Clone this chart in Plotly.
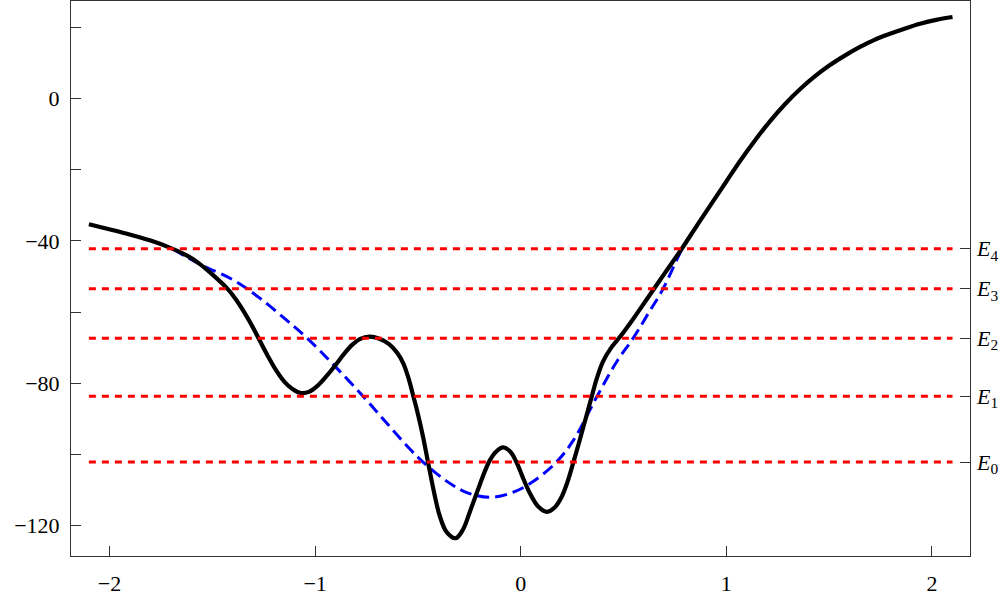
import plotly.graph_objects as go

# Full potential curve (black)
pot_x = [-2.1, -1.92, -1.80, -1.71, -1.62, -1.56, -1.50, -1.43, -1.39, -1.35,
         -1.31, -1.27, -1.23, -1.19, -1.15, -1.11, -1.07, -1.03, -0.99, -0.945,
         -0.90, -0.86, -0.82, -0.78, -0.735, -0.69, -0.64, -0.60, -0.57, -0.545,
         -0.524, -0.50, -0.475, -0.451, -0.42, -0.394, -0.36, -0.316, -0.28, -0.248,
         -0.22, -0.20, -0.175, -0.151, -0.12, -0.086, -0.05, -0.021, 0.01, 0.044,
         0.085, 0.128, 0.165, 0.198, 0.228, 0.255, 0.28, 0.303, 0.325, 0.344,
         0.368, 0.400, 0.441, 0.482, 0.547, 0.62, 0.70, 0.782, 0.86, 0.936,
         1.0, 1.066, 1.14, 1.212, 1.285, 1.358, 1.43, 1.504, 1.58, 1.650,
         1.72, 1.796, 1.87, 1.942, 2.02, 2.1]
pot_y = [-35.3, -37.9, -39.9, -41.8, -44.2, -46.5, -49.4, -53.2, -56.0, -59.5,
         -63.5, -67.9, -72.3, -76.3, -79.5, -81.6, -82.7, -82.4, -80.8, -78.0,
         -74.8, -71.8, -69.2, -67.5, -66.9, -67.4, -69.0, -71.5, -74.5, -78.7,
         -83.2, -88.6, -95.0, -102.1, -111.0, -117.2, -121.8, -123.5, -121.0, -116.2,
         -111.8, -108.6, -104.8, -101.7, -99.2, -98.0, -99.2, -102.1, -106.4, -110.8,
         -114.6, -116.1, -114.9, -112.0, -107.6, -102.4, -97.4, -92.6, -88.0, -84.0,
         -79.0, -73.9, -69.9, -67.0, -61.9, -55.8, -49.1, -42.3, -35.4, -28.8,
         -23.3, -17.6, -11.7, -6.4, -1.6, 2.6, 6.2, 9.4, 12.2, 14.5,
         16.5, 18.2, 19.7, 21.0, 22.1, 22.9]

# Smoothed approximate potential (blue dashed)
approx_x = [-1.69, -1.562, -1.40, -1.27, -1.14, -1.035, -0.913, -0.767, -0.654, -0.54,
            -0.475, -0.362, -0.265, -0.151, -0.037, 0.06, 0.174, 0.255, 0.368, 0.466,
            0.547, 0.62, 0.693, 0.785, 0.85]
approx_y = [-42.3, -46.5, -50.9, -56.0, -62.2, -67.5, -74.6, -83.6, -91.0, -98.4,
            -102.1, -107.4, -110.6, -112.0, -110.6, -107.6, -102.1, -96.1, -84.0, -74.0,
            -67.3, -60.4, -53.4, -42.3, -36.5]

# Energy levels (red dotted)
level_values = [-102.1, -83.6, -67.3, -53.4, -42.2]
level_labels = ["<i>E</i><sub>0</sub>", "<i>E</i><sub>1</sub>", "<i>E</i><sub>2</sub>",
                "<i>E</i><sub>3</sub>", "<i>E</i><sub>4</sub>"]
level_x_span = [-2.1, 2.1]

# Axis ticks
x_ticks = [-2, -1, 0, 1, 2]
x_tick_text = ["\u22122", "\u22121", "0", "1", "2"]
y_ticks = [0, -40, -80, -120]
y_tick_text = ["0", "\u221240", "\u221280", "\u2212120"]
y_minor_ticks = [20, -20, -60, -100]

x_range = [-2.187, 2.185]
y_range = [-128.5, 27.4]

font = dict(family="Liberation Serif", size=22, color="black")
frame = "#333333"

fig = go.Figure()

for v in level_values:
    fig.add_trace(go.Scatter(
        x=level_x_span, y=[v, v], mode="lines", yaxis="y2",
        line=dict(color="#ff0000", width=3, dash="7px,6px"),
        hoverinfo="skip", showlegend=False))

fig.add_trace(go.Scatter(
    x=approx_x, y=approx_y, mode="lines",
    line=dict(color="#0000ff", width=3, dash="12px,6px", shape="spline", smoothing=1.0),
    showlegend=False))

fig.add_trace(go.Scatter(
    x=pot_x, y=pot_y, mode="lines",
    line=dict(color="black", width=4.2, shape="spline", smoothing=1.0),
    showlegend=False))

fig.update_layout(
    width=1008, height=597,
    margin=dict(l=71, r=38, t=1, b=41),
    paper_bgcolor="white", plot_bgcolor="white",
    font=font,
    xaxis=dict(range=x_range, tickvals=x_ticks, ticktext=x_tick_text,
               ticks="inside", ticklen=10, tickcolor=frame, tickwidth=1,
               showline=True, linecolor=frame, linewidth=1, mirror=True,
               showgrid=False, zeroline=False, ticklabelstandoff=8),
    yaxis=dict(range=y_range, tickvals=y_ticks, ticktext=y_tick_text,
               ticks="inside", ticklen=10, tickcolor=frame, tickwidth=1,
               minor=dict(tickvals=y_minor_ticks, ticks="inside", ticklen=10,
                          tickcolor=frame, tickwidth=1, showgrid=False),
               showline=True, linecolor=frame, linewidth=1, mirror=True,
               showgrid=False, zeroline=False, ticklabelstandoff=6),
    yaxis2=dict(range=y_range, overlaying="y", side="right",
                tickvals=level_values, ticktext=level_labels,
                ticks="inside", ticklen=10, tickcolor=frame, tickwidth=1,
                showline=False, showgrid=False, zeroline=False,
                ticklabelstandoff=6),
)

fig.write_html("out.html")
